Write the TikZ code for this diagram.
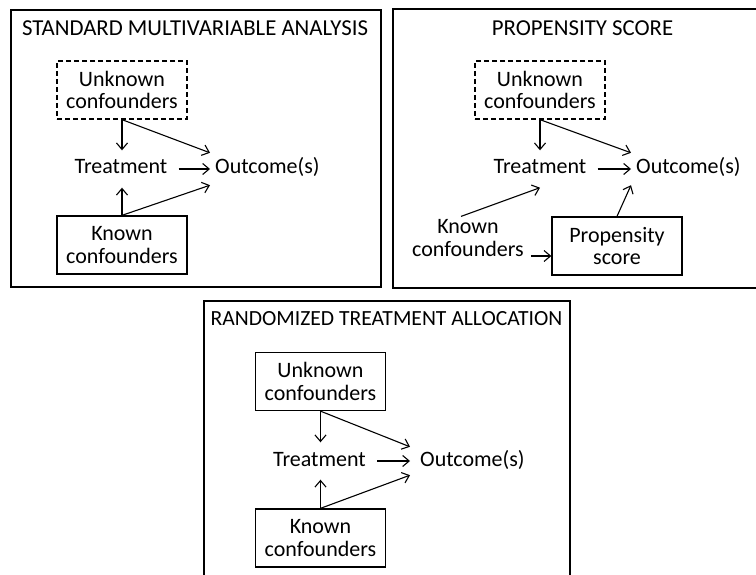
\documentclass[tikz,border=0pt]{standalone}
\usepackage{fontspec}
\setmainfont{Carlito}
\usetikzlibrary{arrows.meta}
\newcommand\mynodefont{\fontsize{22}{22.5}\selectfont}
\newcommand\mytitlefont{\fontsize{22.8}{24}\selectfont}
\newcommand\mytitlefontb{\fontsize{21.6}{24}\selectfont}
\begin{document}
\begin{tikzpicture}[x=1pt,y=-1pt,
  panel/.style={draw, line width=2.4pt},
  box/.style={draw, line width=1.3pt, minimum width=130pt, minimum height=58pt, align=center, inner sep=0pt, font=\mynodefont},
  dbox/.style={box, dash pattern=on 5pt off 3pt},
  plain/.style={align=center, inner sep=3pt, font=\mynodefont},
  treat/.style={font=\mynodefont, inner xsep=11pt, inner ysep=0pt, text height=15pt, text depth=5pt, minimum height=37pt},
  outc/.style={font=\mynodefont, anchor=west, inner xsep=5pt, inner ysep=0pt, text height=15pt, text depth=5pt, minimum height=32pt},
  ttl/.style={font=\mytitlefont, inner sep=0pt},
  arr/.style={line width=1.1pt, -{Straight Barb[length=6.5pt,width=11pt]}}
]
\useasboundingbox (0,0) rectangle (756,575);
\clip (0,0) rectangle (756,575);
\fill[white] (0,0) rectangle (756,575);

% ---------- Panel 1 ----------
\draw[panel] (11,10) rectangle (381,287);
\node[ttl] (h1) at (195,28) {STANDARD MULTIVARIABLE ANALYSIS};
\node[dbox] (u1) at (122,90) {Unknown\\confounders};
\node[treat] (t1) at (121,169) {Treatment};
\node[outc] (o1) at (210,169) {Outcome(s)};
\node[box] (k1) at (122,245) {Known\\confounders};
\draw[arr] (u1.south) -- (u1.south |- t1.north);
\draw[arr] (u1.south) -- (o1.north west);
\draw[arr] (t1.east) -- (o1.west);
\draw[arr] (k1.north) -- (k1.north |- t1.south);
\draw[arr] (k1.north) -- (o1.south west);

% ---------- Panel 2 ----------
\draw[panel] (393,9) rectangle (770,288);
\node[ttl] (h2) at (582.5,28) {PROPENSITY SCORE};
\node[dbox] (u2) at (540,90) {Unknown\\confounders};
\node[treat] (t2) at (540,169) {Treatment};
\node[outc] (o2) at (631,169) {Outcome(s)};
\node[plain] (k2) at (468,238) {Known\\confounders};
\node[box] (p2) at (617,246) {Propensity\\score};
\coordinate (k2a) at ([xshift=-7pt]k2.north);
\coordinate (k2b) at ([yshift=-18pt,xshift=4pt]k2.east);
\draw[arr] (u2.south) -- (u2.south |- t2.north);
\draw[arr] (u2.south) -- (o2.north west);
\draw[arr] (t2.east) -- (o2.west);
\draw[arr] (k2a) -- (t2.south);
\draw[arr] (k2b) -- (k2b -| p2.west);
\draw[arr] (p2.north) -- (o2.south west);

% ---------- Panel 3 ----------
\draw[panel] (204,301) rectangle (570,590);
\node[ttl, font=\mytitlefontb] (h3) at (386.5,319) {RANDOMIZED TREATMENT ALLOCATION};
\node[box] (u3) at (320.5,381.5) {Unknown\\confounders};
\node[treat] (t3) at (319.5,461) {Treatment};
\node[outc, inner xsep=10pt, minimum height=28pt] (o3) at (410,461) {Outcome(s)};
\node[box] (k3) at (320.5,538) {Known\\confounders};
\draw[arr] (u3.south) -- (u3.south |- t3.north);
\draw[arr] (u3.south) -- (o3.north west);
\draw[arr] (t3.east) -- (o3.west);
\draw[arr] (k3.north) -- (k3.north |- t3.south);
\draw[arr] (k3.north) -- (o3.south west);
\end{tikzpicture}
\end{document}
